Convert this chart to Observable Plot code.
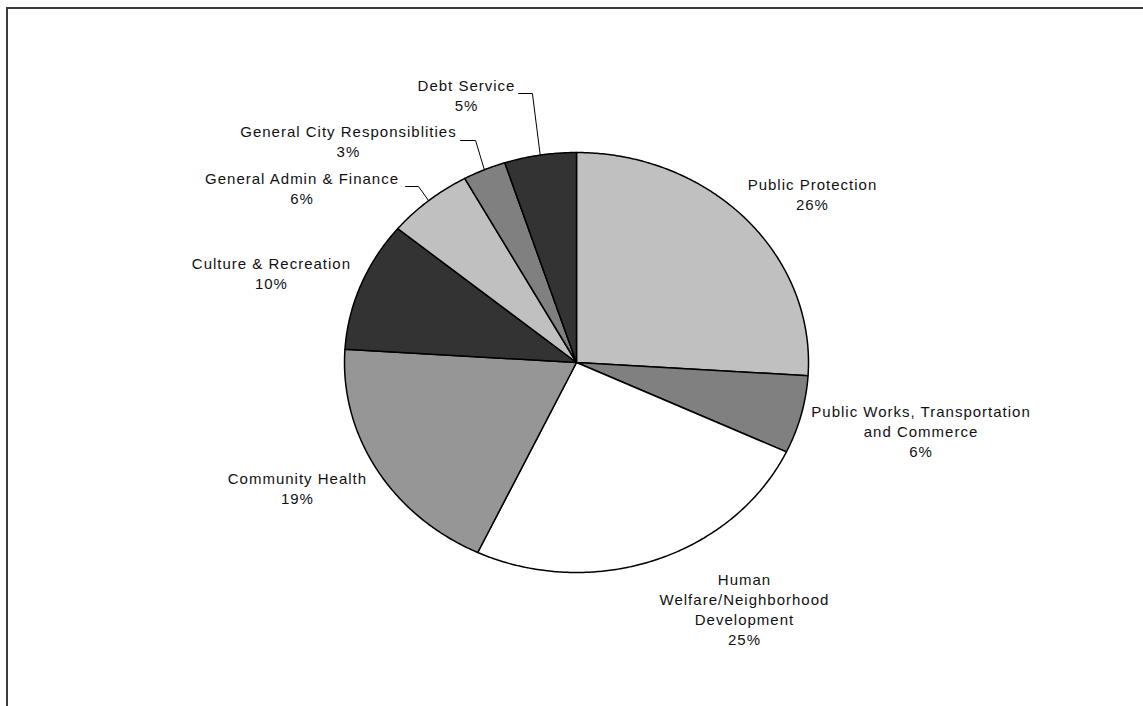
<!DOCTYPE html>
<html>
<head>
<meta charset="utf-8">
<script src="https://cdn.jsdelivr.net/npm/d3@7"></script>
<script src="https://cdn.jsdelivr.net/npm/@observablehq/plot@0.6"></script>
<style>
  html, body { margin: 0; padding: 0; background: #fff; overflow: hidden; }
  #wrap { position: relative; width: 1143px; height: 706px; }
  #frame { position: absolute; left: 6px; top: 7px; width: 1300px; height: 900px;
           border-left: 2px solid #3a3a3a; border-top: 2px solid #3a3a3a; box-sizing: border-box; pointer-events: none; }
  #chart { position: absolute; left: 0; top: 0; }
</style>
</head>
<body>
<div id="wrap"><div id="chart"></div><div id="frame"></div></div>
<script>
// ---- Data ----
const categories = [
  "Public Protection",
  "Public Works, Transportation\nand Commerce",
  "Human\nWelfare/Neighborhood\nDevelopment",
  "Community Health",
  "Culture & Recreation",
  "General Admin & Finance",
  "General City Responsiblities",
  "Debt Service"
];
const shares = [26, 6, 25, 19, 10, 6, 3, 5];
const percentLabels = ["26%", "6%", "25%", "19%", "10%", "6%", "3%", "5%"];

// ---- Styles (separate from data) ----
const sliceColors = ["#c0c0c0", "#808080", "#ffffff", "#969696", "#333333", "#c0c0c0", "#808080", "#333333"];

// ---- Label layout, in pie-radius units (x right, y up) ----
const labelX = [1.017, 1.485, 0.724, -1.203, -1.315, -1.183, -0.983, -0.474];
const labelY = [0.802, -0.326, -1.174, -0.598, 0.426, 0.831, 1.055, 1.276];
// leader lines: [startX, elbowX, y] for slices that have them (null otherwise)
const leaderLayout = [null, null, null, null, null, [-0.737, -0.681, 0.838], [-0.5, -0.435, 1.057], [-0.25, -0.19, 1.281]];

// ---- Geometry from data ----
const pie = d3.pie().sort(null).value(d => d)(shares);
const slicePts = pie.map((p, i) => {
  const pts = [{x: 0, y: 0}];
  const n = Math.max(2, Math.ceil((p.endAngle - p.startAngle) / (Math.PI / 360)));
  for (let k = 0; k <= n; k++) {
    const a = p.startAngle + (p.endAngle - p.startAngle) * k / n;
    pts.push({x: Math.sin(a), y: Math.cos(a)});
  }
  pts.push({x: 0, y: 0});
  return pts;
});

const labels = categories.map((c, i) => ({
  text: c + "\n" + percentLabels[i], x: labelX[i], y: labelY[i]
}));

const leaders = [];
pie.forEach((p, i) => {
  const L = leaderLayout[i];
  if (!L) return;
  const mid = (p.startAngle + p.endAngle) / 2;
  leaders.push({id: i, x: L[0], y: L[2]});
  leaders.push({id: i, x: L[1], y: L[2]});
  leaders.push({id: i, x: Math.sin(mid), y: Math.cos(mid)});
});

const marks = slicePts.map((pts, i) =>
  Plot.line(pts, {x: "x", y: "y", fill: sliceColors[i], stroke: "#000", strokeWidth: 1.5, strokeLinejoin: "round", curve: "linear"})
);
marks.push(Plot.line(leaders, {x: "x", y: "y", z: "id", stroke: "#000", strokeWidth: 1}));
marks.push(Plot.text(labels, {
  x: "x", y: "y", text: "text",
  fontSize: 15, lineHeight: 1.333, fill: "#111",
  textAnchor: "middle", lineAnchor: "middle",
  fontFamily: "'Liberation Sans', Arial, sans-serif"
}));

const chart = Plot.plot({
  width: 1143,
  height: 706,
  margin: 0,
  x: {domain: [-1, 1], range: [344, 808], axis: null},
  y: {domain: [-1, 1], range: [572, 152], axis: null},
  style: {background: "transparent", letterSpacing: "1px", fontFamily: "'Liberation Sans', Arial, sans-serif"},
  marks
});
document.getElementById("chart").appendChild(chart);
</script>
</body>
</html>
